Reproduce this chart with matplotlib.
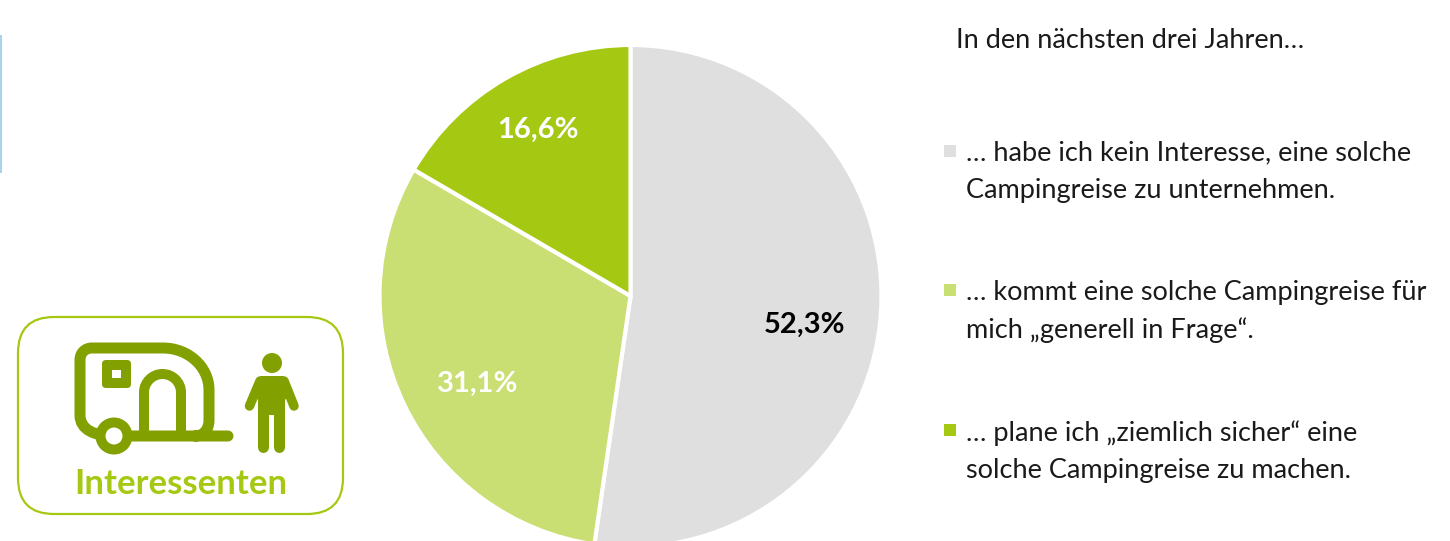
import matplotlib
matplotlib.use("Agg")
import matplotlib.pyplot as plt
from matplotlib.patches import FancyBboxPatch, Rectangle, Circle, PathPatch, Polygon
from matplotlib.path import Path

# --- data ---
values = [52.3, 31.1, 16.6]
value_labels = ["52,3%", "31,1%", "16,6%"]
colors = ["#DFDFDF", "#C9DE73", "#A5C912"]
label_colors = ["#000000", "#FFFFFF", "#FFFFFF"]
legend_title = "In den nächsten drei Jahren…"
legend_lines = [
    ["… habe ich kein Interesse, eine solche", "Campingreise zu unternehmen."],
    ["… kommt eine solche Campingreise für", "mich „generell in Frage“."],
    ["… plane ich „ziemlich sicher“ eine", "solche Campingreise zu machen."],
]
badge_text = "Interessenten"

W, H = 1450, 541
ICON = "#82A000"
plt.rcParams["font.family"] = ["Lato", "DejaVu Sans"]
fig = plt.figure(figsize=(W / 100, H / 100), dpi=100)
ax = fig.add_axes([0, 0, 1, 1])
ax.set_xlim(0, W)
ax.set_ylim(0, H)
ax.set_aspect("equal")
ax.axis("off")
Y = lambda y: H - y

# --- pie ---
wedges, _ = ax.pie(values, colors=colors, startangle=90, counterclock=False,
                   center=(630.5, Y(296)), radius=251,
                   wedgeprops=dict(edgecolor="white", linewidth=3), frame=True)
ax.set_xlim(0, W)
ax.set_ylim(0, H)
ax.axis("off")
label_pos = [(805, 333), (478, 392), (538, 138)]
for t, c, (x, y) in zip(value_labels, label_colors, label_pos):
    ax.text(x, Y(y), t, color=c, fontsize=21, fontweight="bold", ha="center", va="baseline")

# --- legend ---
ax.text(956, Y(48), legend_title, fontsize=19.5, color="#1a1a1a", va="baseline")
swatch_y = [145, 284, 424]
text_y = [(160, 198), (300, 338), (441, 478)]
for sy, c, lines, (y1, y2) in zip(swatch_y, colors, legend_lines, text_y):
    ax.add_patch(Rectangle((944, Y(sy + 12)), 12, 12, fc=c, ec="none"))
    ax.text(966, Y(y1), lines[0], fontsize=19.5, color="#1a1a1a", va="baseline")
    ax.text(966, Y(y2), lines[1], fontsize=19.5, color="#1a1a1a", va="baseline")

# --- left blue strip ---
ax.add_patch(Rectangle((0, Y(173)), 2, 138, fc="#A9D2EE", ec="none"))

# --- badge ---
ax.add_patch(FancyBboxPatch((18 + 36, Y(514) + 36), 325 - 72, 197 - 72,
                            boxstyle="round,pad=36,rounding_size=36",
                            fc="white", ec="#A5C912", lw=1.6))
ax.text(181, Y(494), badge_text, color="#A5C912", fontsize=25, fontweight="bold",
        ha="center", va="baseline")

# caravan body
px = 0.72  # points per pixel
k = 0.5523
def P(x, y):
    return (x, Y(y))
verts = [P(114, 436), P(95, 436), P(80, 430), P(80, 415),
         P(80, 360),
         P(80, 353), P(85, 348), P(92, 348),
         P(163, 348),
         P(163 + 46 * k, 348), P(209, 390 - 42 * k), P(209, 390),
         P(209, 420), P(209, 430), P(203, 436), P(195, 436),
         P(114, 436), P(228, 436)]
codes = [Path.MOVETO, Path.CURVE4, Path.CURVE4, Path.CURVE4,
         Path.LINETO,
         Path.CURVE4, Path.CURVE4, Path.CURVE4,
         Path.LINETO,
         Path.CURVE4, Path.CURVE4, Path.CURVE4,
         Path.LINETO, Path.CURVE4, Path.CURVE4, Path.CURVE4,
         Path.MOVETO, Path.LINETO]
ax.add_patch(PathPatch(Path(verts, codes), fc="none", ec=ICON, lw=11 * px, capstyle="round"))
# door
r = 18.5
door = [P(144, 436), P(144, 392.5),
        P(144, 392.5 - r * k), P(162.5 - r * k, 374), P(162.5, 374),
        P(162.5 + r * k, 374), P(181, 392.5 - r * k), P(181, 392.5),
        P(181, 436)]
door_codes = [Path.MOVETO, Path.LINETO, Path.CURVE4, Path.CURVE4, Path.CURVE4,
              Path.CURVE4, Path.CURVE4, Path.CURVE4, Path.LINETO]
ax.add_patch(PathPatch(Path(door, door_codes), fc="none", ec=ICON, lw=10 * px))
# window
ax.add_patch(FancyBboxPatch((105, Y(385)), 23, 22, boxstyle="round,pad=3,rounding_size=4",
                            fc=ICON, ec="none"))
ax.add_patch(Rectangle((112, Y(378)), 9, 8, fc="white", ec="none"))
# wheel
ax.add_patch(Circle(P(114, 436), 18.5, fc=ICON, ec="none"))
ax.add_patch(Circle(P(114, 436), 8.5, fc="white", ec="none"))
# person
ax.add_patch(Circle(P(272, 363), 10, fc=ICON, ec="none"))
ax.add_patch(Polygon([P(258, 378), P(261, 376), P(283, 376), P(286, 378),
                      P(291, 392), P(285, 400), P(285, 446), P(258, 446), P(258, 400), P(253, 392)],
                     closed=True, fc=ICON, ec="none"))
for xs, ys in [((260, 249.5), (381, 406)), ((284, 294), (381, 406))]:
    ax.plot(xs, [Y(v) for v in ys], color=ICON, lw=9.5 * px, solid_capstyle="round")
for x in (263.5, 279.5):
    ax.plot([x, x], [Y(440), Y(447)], color=ICON, lw=11 * px, solid_capstyle="round")
ax.add_patch(Rectangle((269, Y(453)), 5, 38, fc="white", ec="none"))

fig.savefig("out.png", dpi=100, facecolor="white")
